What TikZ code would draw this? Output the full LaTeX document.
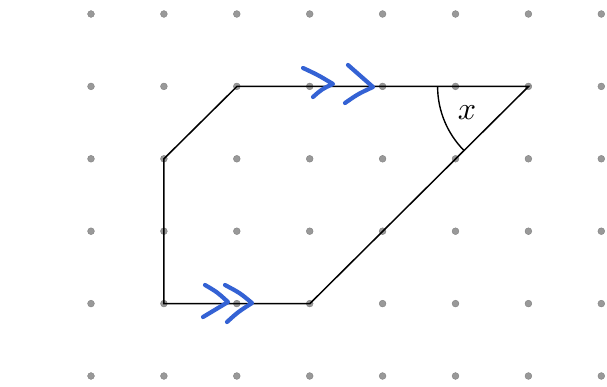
\documentclass[tikz,border=0pt]{standalone}
\begin{document}
\begin{tikzpicture}[x=1pt,y=-1pt,
  griddot/.style={fill=gray!80,draw=gray,line width=0.4pt},
  edge/.style={line width=1.5pt,black,line join=miter},
  chev/.style={line width=4.2pt,draw=markblue,line cap=round,line join=round},
  anglearc/.style={line width=1.4pt,black},
  anglelabel/.style={scale=3.2,inner sep=0pt}]
\definecolor{markblue}{RGB}{52,98,212}
\useasboundingbox[fill=white] (0,0) rectangle (607,387);
% dot grid
\foreach \i in {0,...,7}{
  \foreach \j in {0,...,5}{
    \fill[griddot] ({91+72.9*\i},{14+72.4*\j}) circle (3.4);
  }
}
% polygon vertices
\coordinate (A) at (237.0,86.4);
\coordinate (B) at (528.6,86.4);
\coordinate (C) at (309.9,303.6);
\coordinate (D) at (163.9,303.6);
\coordinate (E) at (163.9,158.8);
\draw[edge] (A) -- (B) -- (C) -- (D) -- (E) -- cycle;
% angle arc at B
\draw[anglearc] ([xshift=-91pt]B) arc[start angle=180,end angle=135.2,radius=91];
\node[anglelabel] (xlab) at (467,113) {$x$};
% parallel marks top
\draw[chev] (303,68) .. controls (318,75) .. (333,84) .. controls (322,89) .. (313,97);
\draw[chev] (348,65) .. controls (360,76) .. (373,87) .. controls (358,94) .. (345,103);
% parallel marks bottom
\draw[chev] (205,285) .. controls (217,292) .. (228,302) .. controls (215,309) .. (203,317);
\draw[chev] (225,285) .. controls (240,293) .. (252,303) .. controls (238,312) .. (227,322);
\end{tikzpicture}
\end{document}
